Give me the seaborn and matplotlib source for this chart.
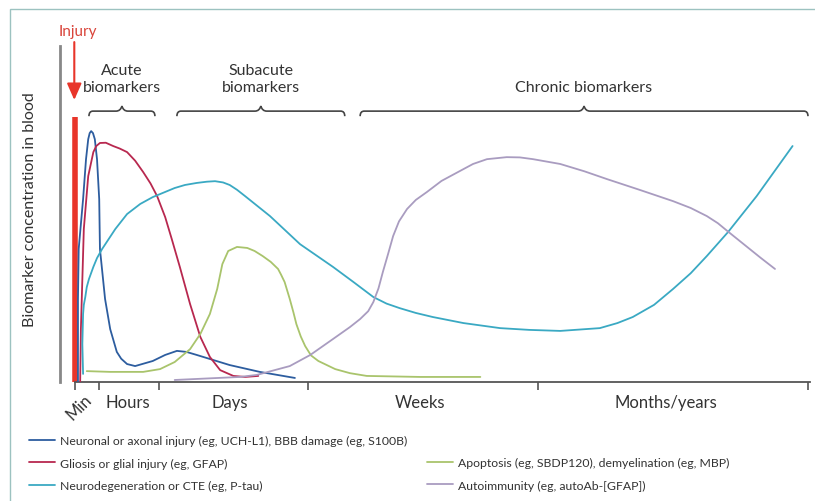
import matplotlib
matplotlib.use('Agg')
import pandas as pd
import matplotlib.pyplot as plt
import seaborn as sns
from matplotlib.lines import Line2D
from matplotlib.patches import Rectangle, PathPatch
from matplotlib.path import Path

# Time runs 0-100 along the x axis (Min -> Months/years), concentration 0-100
neuronal_x = [0.4, 0.4, 0.5, 1.1, 1.5, 1.8, 2.0, 2.2, 2.45, 2.7, 3.0, 3.3, 3.4, 4.1, 4.8, 5.7,
              6.3, 7.1, 8.2, 10.6, 12.3, 13.9, 15.2, 16.6, 21.1, 25.2, 30.0]
neuronal_y = [0, 32.8, 52.6, 72.3, 88.1, 96.0, 98.4, 99.2, 98.4, 96.0, 88.1, 72.3, 52.6, 32.8,
              20.9, 11.9, 9.2, 7.1, 6.3, 8.3, 10.7, 12.3, 11.9, 10.7, 6.7, 4.0, 1.6]

glial_x = [0.7, 0.8, 1.0, 1.2, 1.8, 2.5, 2.9, 3.4, 4.2, 5.2, 6.1, 7.1, 8.2, 9.3, 10.3, 11.2,
           12.3, 13.2, 14.3, 15.7, 17.1, 18.4, 19.8, 21.6, 23.2, 25.0]
glial_y = [0, 20.9, 40.7, 60.5, 81.4, 90.9, 93.3, 94.5, 94.6, 93.3, 92.3, 90.9, 87.5, 83.0,
           78.5, 73.5, 65.2, 56.5, 45.5, 30.8, 17.8, 9.9, 4.7, 2.4, 2.0, 2.4]

neurodeg_x = [1.1, 1.0, 1.1, 1.2, 1.4, 1.6, 1.9, 2.5, 3.0, 3.7, 5.5, 7.1, 8.9, 10.6, 13.6, 15.0,
              16.6, 18.0, 19.1, 20.2, 21.1, 22.1, 23.2, 26.6, 30.7, 35.2, 38.0, 40.7, 42.5,
              44.3, 46.5, 48.8, 53.0, 58.0, 62.0, 66.2, 71.6, 74.0, 76.1, 79.0, 81.6, 84.0,
              86.2, 89.1, 93.0, 97.9]
neurodeg_y = [3.2, 15.0, 26.9, 30.5, 33.6, 37.5, 40.7, 45.5, 49.0, 52.6, 60.5, 66.4, 70.4,
              73.1, 76.7, 77.9, 78.7, 79.2, 79.4, 78.9, 77.9, 76.0, 73.5, 65.6, 54.5, 45.5,
              39.5, 33.6, 31.0, 29.2, 27.3, 25.7, 23.3, 21.3, 20.6, 20.2, 21.3, 23.3, 25.7,
              30.5, 36.8, 43.0, 49.8, 59.3, 73.5, 93.3]

apoptosis_x = [1.6, 4.8, 9.3, 11.6, 13.6, 15.7, 17.1, 18.4, 19.4, 20.1, 20.9, 22.1, 23.5, 24.5,
               25.6, 26.7, 27.7, 28.1, 28.6, 29.3, 29.8, 30.2, 30.8, 31.4, 32.2, 33.2, 35.5,
               37.5, 39.8, 47.1, 55.3]
apoptosis_y = [4.3, 4.0, 4.0, 5.1, 7.9, 13.0, 19.0, 26.9, 36.8, 46.6, 51.8, 53.4, 53.0, 51.8,
               49.8, 47.5, 44.7, 42.5, 39.5, 32.8, 27.5, 22.9, 18.0, 14.2, 10.5, 8.3, 5.1,
               3.5, 2.4, 2.0, 2.0]

autoimm_x = [13.6, 22.5, 24.8, 29.3, 32.1, 35.2, 37.5, 38.9, 40.0, 40.7, 41.4, 42.0, 42.7,
             43.4, 44.2, 45.3, 46.5, 48.0, 50.0, 52.5, 54.3, 56.2, 58.9, 60.7, 62.5, 66.2,
             69.5, 72.6, 77.0, 81.6, 84.0, 86.2, 87.7, 89.0, 91.7, 93.5, 95.5]
autoimm_y = [0.8, 2.0, 2.8, 6.3, 10.7, 17.0, 21.7, 24.9, 28.0, 31.6, 37.0, 43.5, 50.5, 57.7,
             63.5, 68.4, 72.0, 75.1, 79.5, 83.4, 86.2, 88.1, 88.9, 88.8, 88.1, 86.2, 83.3,
             80.2, 76.0, 71.5, 68.8, 65.6, 62.8, 59.7, 53.4, 49.2, 44.7]

series_names = [
    'Neuronal or axonal injury (eg, UCH-L1), BBB damage (eg, S100B)',
    'Gliosis or glial injury (eg, GFAP)',
    'Neurodegeneration or CTE (eg, P-tau)',
    'Apoptosis (eg, SBDP120), demyelination (eg, MBP)',
    'Autoimmunity (eg, autoAb-[GFAP])',
]
series_colors = ['#2d5d9f', '#b8284f', '#3aa9c3', '#a9c46c', '#a99cc0']

phase_edges = [0, 3.3, 11.5, 31.8, 63.2, 100]
phase_labels = ['Hours', 'Days', 'Weeks', 'Months/years']
phase_label_pos = [7.2, 21.1, 47.1, 80.6]

brace_labels = ['Acute\nbiomarkers', 'Subacute\nbiomarkers', 'Chronic biomarkers']
brace_start = [1.9, 13.9, 38.9]
brace_end = [10.9, 36.8, 100]

injury_time = 0
injury_top = 104.7

frames = []
for name, xs, ys in zip(series_names,
                        [neuronal_x, glial_x, neurodeg_x, apoptosis_x, autoimm_x],
                        [neuronal_y, glial_y, neurodeg_y, apoptosis_y, autoimm_y]):
    frames.append(pd.DataFrame({'time': xs, 'conc': ys, 'series': name}))
df = pd.concat(frames, ignore_index=True)

sns.set_theme(style='white')
plt.rcParams['font.family'] = ['Lato', 'DejaVu Sans']

fig = plt.figure(figsize=(8.15, 5.02), dpi=100)
ax = fig.add_axes([60 / 815, 119 / 502, 752 / 815, 368 / 502])

# injury marker
ax.vlines(injury_time, 0, injury_top, color='#e8352a', lw=4, zorder=1)

sns.lineplot(data=df, x='time', y='conc', hue='series', palette=dict(zip(series_names, series_colors)),
             sort=False, estimator=None, lw=1.3, legend=False, ax=ax, zorder=3)
for line in ax.get_lines():
    line.set_solid_joinstyle('round')

ax.set_xlim(-2.05, 100.55)
ax.set_ylim(0, 145.5)
ax.set_xlabel('')
ax.set_ylabel('Biomarker concentration in blood', fontsize=11.5, color='#333')
ax.yaxis.set_label_coords(-0.031, 0.47)
ax.set_yticks([])

for s in ['top', 'right']:
    ax.spines[s].set_visible(False)
ax.spines['left'].set_bounds(0, 132.8)
ax.spines['left'].set_color('#888')
ax.spines['left'].set_linewidth(2)
ax.spines['bottom'].set_bounds(0, 100.3)
ax.spines['bottom'].set_color('#555')
ax.spines['bottom'].set_linewidth(1.3)

ax.set_xticks(phase_edges)
ax.set_xticklabels([])
ax.set_xticks(phase_label_pos, minor=True)
ax.set_xticklabels(phase_labels, minor=True)
ax.tick_params(axis='x', which='major', bottom=True, direction='out', length=6, width=1.2, color='#555')
ax.tick_params(axis='x', which='minor', bottom=True, length=0, pad=9, labelsize=12, labelcolor='#333')
ax.text(injury_time + 0.6, -3.5, 'Min', rotation=45, ha='center', va='top', fontsize=12,
        color='#333', clip_on=False)

# injury arrow and label
ax.annotate('', xy=(injury_time - 0.1, 111.5), xytext=(injury_time - 0.1, 134.4),
            arrowprops=dict(arrowstyle='-|>,head_length=0.5,head_width=0.22', color='#e8352a',
                            lw=1.5, mutation_scale=20, shrinkA=0, shrinkB=0))
ax.text(injury_time + 0.4, 138.7, 'Injury', ha='center', va='center', fontsize=11, color='#d9443a')

# braces over each phase
yb = 107.1
for label, x0, x1 in zip(brace_labels, brace_start, brace_end):
    xm = (x0 + x1) / 2
    verts = [(x0, yb - 2.0), (x0, yb), (x0 + 0.55, yb),
             (xm - 0.8, yb), (xm - 0.2, yb), (xm, yb + 2.0),
             (xm + 0.2, yb), (xm + 0.8, yb),
             (x1 - 0.55, yb), (x1, yb), (x1, yb - 2.0)]
    codes = [Path.MOVETO, Path.CURVE3, Path.CURVE3,
             Path.LINETO, Path.CURVE3, Path.CURVE3,
             Path.CURVE3, Path.CURVE3,
             Path.LINETO, Path.CURVE3, Path.CURVE3]
    ax.add_patch(PathPatch(Path(verts, codes), fill=False, ec='#444', lw=1.2))
    ax.text(xm, 113.8, label, ha='center', va='bottom', fontsize=11.5, color='#333',
            linespacing=1.3)

# legend in two blocks
handles = [Line2D([], [], color=c, lw=1.3) for c in series_colors]
kw = dict(loc='upper left', frameon=False, fontsize=8.8, handlelength=2.15, handletextpad=0.35,
          labelspacing=0.95, borderpad=0, borderaxespad=0, labelcolor='#333')
fig.legend(handles=handles[:3], labels=series_names[:3], bbox_to_anchor=(29 / 815, 1 - 436 / 502), **kw)
fig.legend(handles=handles[3:], labels=series_names[3:], bbox_to_anchor=(427 / 815, 1 - 458 / 502), **kw)

# thin frame line at top and left
fig.add_artist(Rectangle((10 / 815, -0.1), 1.0, 1.1 - 10 / 502, transform=fig.transFigure,
                         fill=False, ec='#9cc2c0', lw=1))

fig.savefig('out.png', dpi=100, facecolor='white')
